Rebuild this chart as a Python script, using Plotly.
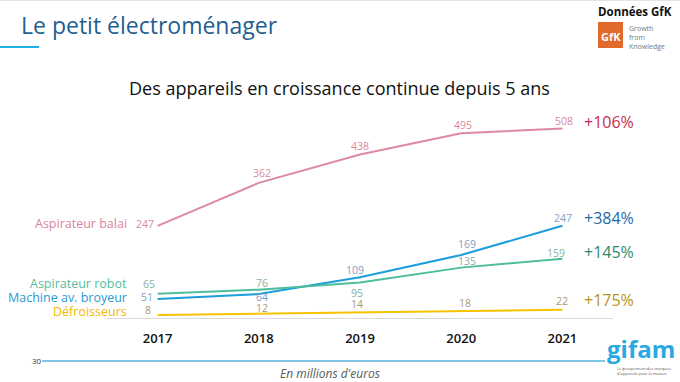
import plotly.graph_objects as go

# ---------------- data ----------------
years = [2017, 2018, 2019, 2020, 2021]
year_labels = ["2017", "2018", "2019", "2020", "2021"]
series_names = ["Aspirateur balai", "Machine av. broyeur", "Aspirateur robot", "Défroisseurs"]
aspirateur_balai = [247, 362, 438, 495, 508]
machine_broyeur = [51, 64, 109, 169, 247]
aspirateur_robot = [65, 76, 95, 135, 159]
defroisseurs = [8, 12, 14, 18, 22]
growth_labels = ["+106%", "+384%", "+145%", "+175%"]

title_text = "Le petit électroménager"
chart_title = "Des appareils en croissance continue depuis 5 ans"
unit_text = "En millions d'euros"
page_number = "30"
source_text = "Données GfK"

# ---------------- style ----------------
FONT = "Open Sans"
W, H = 680, 382
L, R, T, B = 107, 67, 109, 64
PW, PH = W - L - R, H - T - B

def px(x):
    return (x - L) / PW

def py(y):
    return (H - B - y) / PH

series_values = [aspirateur_balai, machine_broyeur, aspirateur_robot, defroisseurs]
line_colors = ["#dc8aa0", "#1c9ddc", "#4dbd9c", "#f7c200"]
name_colors = ["#d9859c", "#1f9ad6", "#55bd9d", "#f5b900"]
value_colors = ["#d98aa0", "#7f9fbf", "#86b3a4", "#a8977a"]
growth_colors = ["#c62b53", "#1f6aa7", "#2e8c6e", "#b8931c"]
# label offsets (xshift, yshift) per point
label_offsets = [
    [(-2, 2), (3, 10), (0, 9), (2, 8), (2, 7.5)],
    [(-3, 2), (3, -3), (-5, 7), (6, 11), (1, 7.5)],
    [(-1, 10), (3, 7), (-3, -10), (6, 6.6), (-6, 6)],
    [(-5, 5), (3, 6), (-3, 8.5), (4, 8.6), (0, 9)],
]
name_yshift = [2, 1.5, 10.2, 3.8]
growth_yshift = [6.6, 7.5, 7, 9.8]

fig = go.Figure()
for vals, col, nm in zip(series_values, line_colors, series_names):
    fig.add_trace(go.Scatter(x=years, y=vals, mode="lines", name=nm,
                             line=dict(color=col, width=2), hoverinfo="skip"))

ann = []
for s, vals in enumerate(series_values):
    for i, (x, v) in enumerate(zip(years, vals)):
        xs, ys = label_offsets[s][i]
        ann.append(dict(x=x, y=v, xref="x", yref="y", text=str(v), showarrow=False,
                        xanchor="right" if i == 0 else "center", yanchor="middle",
                        xshift=xs, yshift=ys,
                        font=dict(family=FONT, size=10.5, color=value_colors[s])))
    ann.append(dict(x=years[0], y=vals[0], xref="x", yref="y", text=series_names[s],
                    showarrow=False, xanchor="right", yanchor="middle",
                    xshift=-29, yshift=name_yshift[s],
                    font=dict(family=FONT, size=12.5, color=name_colors[s])))
    ann.append(dict(x=years[-1], y=vals[-1], xref="x", yref="y", text=growth_labels[s],
                    showarrow=False, xanchor="left", yanchor="middle",
                    xshift=20, yshift=growth_yshift[s],
                    font=dict(family=FONT, size=16, color=growth_colors[s])))

# page texts
ann += [
    dict(x=px(19), y=py(25), xref="paper", yref="paper", text=title_text, showarrow=False,
         xanchor="left", yanchor="middle", font=dict(family=FONT, size=23, color="#1f5f91")),
    dict(x=px(339), y=py(88), xref="paper", yref="paper", text=chart_title, showarrow=False,
         xanchor="center", yanchor="middle", font=dict(family=FONT, size=18, color="#111111")),
    dict(x=px(635), y=py(12), xref="paper", yref="paper", text=source_text, showarrow=False,
         xanchor="center", yanchor="middle",
         font=dict(family=FONT, size=11.5, color="#111111", weight="bold")),
    dict(x=px(610.5), y=py(36), xref="paper", yref="paper", text="GfK", showarrow=False,
         xanchor="center", yanchor="middle",
         font=dict(family=FONT, size=11, color="#ffffff", weight="bold")),
    dict(x=px(627), y=py(37.5), xref="paper", yref="paper",
         text="Growth<br>from<br>Knowledge", showarrow=False, align="left",
         xanchor="left", yanchor="middle",
         font=dict(family=FONT, size=7, color="#777777")),
    dict(x=px(37), y=py(360), xref="paper", yref="paper", text=page_number, showarrow=False,
         xanchor="center", yanchor="middle", font=dict(family=FONT, size=8, color="#333333")),
    dict(x=px(330), y=py(373), xref="paper", yref="paper", text="<i>" + unit_text + "</i>",
         showarrow=False, xanchor="center", yanchor="middle",
         font=dict(family=FONT, size=12, color="#595959")),
    dict(x=px(641), y=py(348), xref="paper", yref="paper", text="gifam", showarrow=False,
         xanchor="center", yanchor="middle",
         font=dict(family=FONT, size=24, color="#2aa9e0", weight="bold")),
    dict(x=px(644), y=py(371), xref="paper", yref="paper",
         text="Le groupement des marques<br>d'appareils pour la maison", showarrow=False,
         align="left", xanchor="center", yanchor="middle",
         font=dict(family=FONT, size=4, color="#555555")),
]

shapes = [
    dict(type="line", xref="paper", yref="paper", x0=px(0), x1=px(680), y0=py(0.5), y1=py(0.5),
         line=dict(color="#e4e4e4", width=1)),
    dict(type="line", xref="paper", yref="paper", x0=px(0), x1=px(39), y0=py(47), y1=py(47),
         line=dict(color="#1fb0e6", width=2)),
    dict(type="line", xref="paper", yref="paper", x0=px(42), x1=px(605), y0=py(361), y1=py(361),
         line=dict(color="#5ab4e0", width=1.5)),
    dict(type="rect", xref="paper", yref="paper", x0=px(598), x1=px(623), y0=py(22), y1=py(48),
         fillcolor="#e0692c", line=dict(width=0)),
]

fig.update_layout(
    width=W, height=H, margin=dict(l=L, r=R, t=T, b=B),
    paper_bgcolor="white", plot_bgcolor="white", showlegend=False,
    annotations=ann, shapes=shapes,
    xaxis=dict(range=[2016.5, 2021.5], tickvals=years, ticktext=year_labels,
               showgrid=False, zeroline=False, showline=True, linecolor="#d9d9d9", linewidth=1,
               ticks="", ticklabelstandoff=8,
               tickfont=dict(family=FONT, size=13, color="#111111", weight=600)),
    yaxis=dict(range=[0, 560], visible=False, showgrid=False, zeroline=False),
)

fig.write_html("out.html", config={"displayModeBar": False},
               post_script="document.body.style.margin='0';document.body.style.overflow='hidden';")
